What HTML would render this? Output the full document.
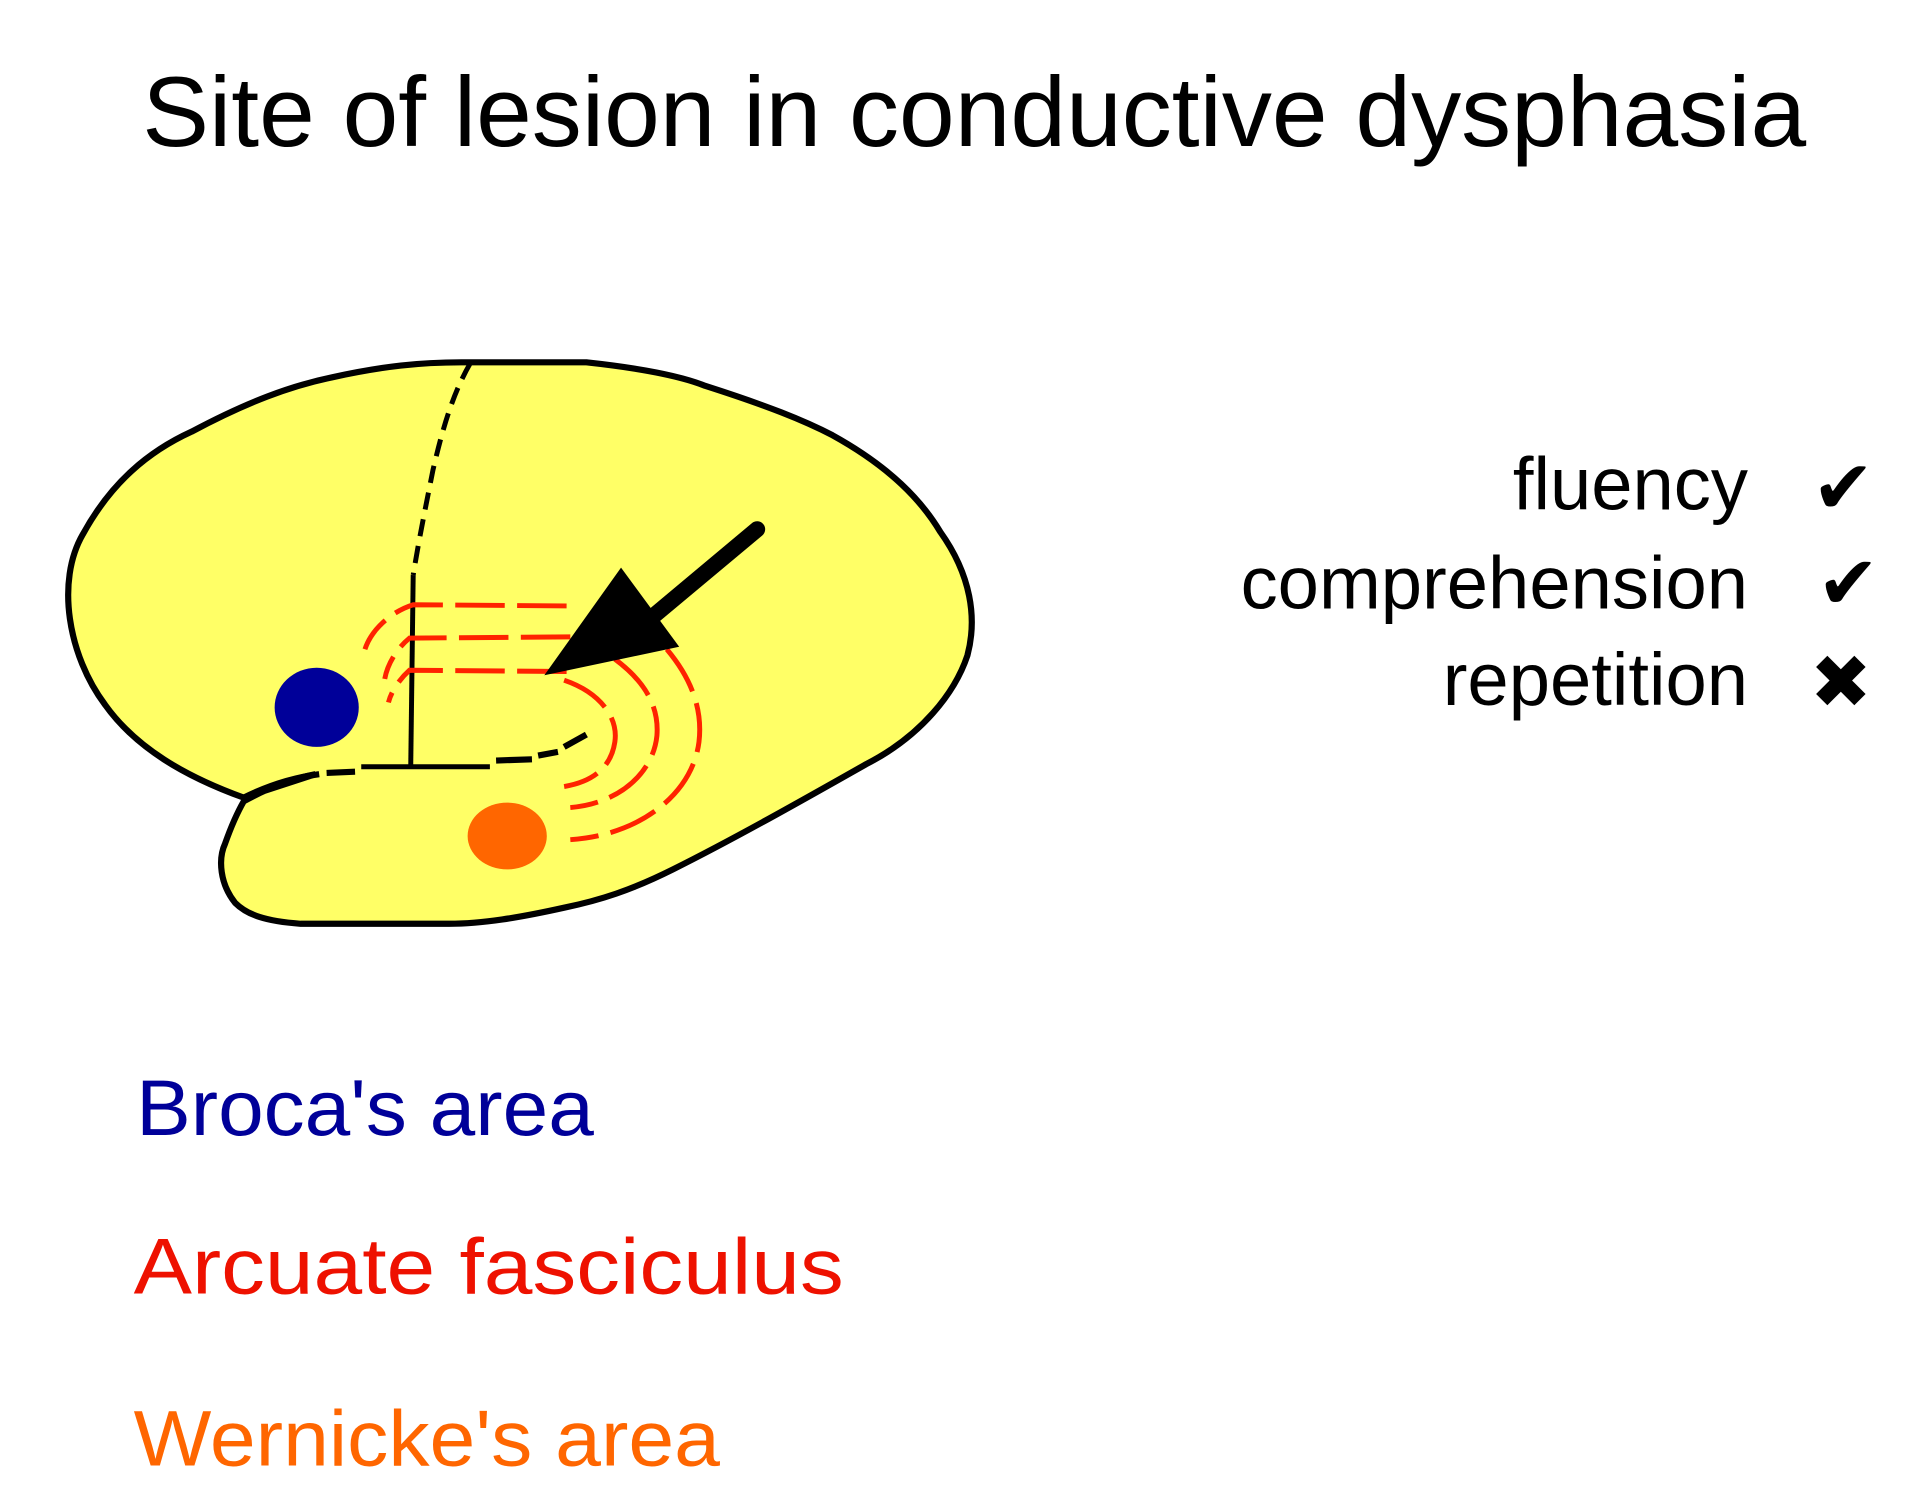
<!DOCTYPE html>
<html><head><meta charset="utf-8"><style>
html,body{margin:0;padding:0;background:#fff;}
svg{display:block;}
text{font-family:"Liberation Sans",sans-serif;}
</style></head><body>
<svg width="1920" height="1505" viewBox="0 0 1552 1217" preserveAspectRatio="none" xmlns="http://www.w3.org/2000/svg">
<rect width="1552" height="1217" fill="#fff"/>
<text x="115" y="118" font-size="80" fill="#000" textLength="1345" lengthAdjust="spacingAndGlyphs">Site of lesion in conductive dysphasia</text>

<!-- temporal lobe + main lobe -->
<path d="M197,645 C150,628 110,605 85,570 C55,530 45,470 67,432 C90,390 120,365 155,349 C200,325 235,312 269,305 C310,296 340,293 373,293 L474,293 C520,298 550,304 570,312 C620,328 650,340 673,352 C720,378 745,405 760,430 C785,465 790,500 782,530 C772,560 745,595 700,618 C640,652 590,680 544,703 C510,720 485,728 456,734 C420,742 390,747 363,747 L243,747 C215,745 200,740 190,730 C178,715 176,695 182,682 C188,665 193,655 197,648 C215,638 235,630 255,626 Z" fill="#ffff66" stroke="#000" stroke-width="5"/>
<!-- left lobe bottom boundary -->
<path d="M197,645 C215,636 235,629 258,626" fill="none" stroke="#000" stroke-width="5"/>
<!-- sylvian fissure -->
<line x1="264" y1="625" x2="287" y2="624" stroke="#000" stroke-width="5"/>
<line x1="292" y1="620" x2="396" y2="620" stroke="#000" stroke-width="4"/>
<line x1="401" y1="615" x2="430" y2="614" stroke="#000" stroke-width="5"/>
<line x1="435" y1="611" x2="451" y2="608" stroke="#000" stroke-width="5"/>
<line x1="456" y1="604" x2="474" y2="594" stroke="#000" stroke-width="5"/>
<!-- vertical line -->
<line x1="334" y1="465" x2="332" y2="620" stroke="#000" stroke-width="4"/>
<!-- central sulcus dashed -->
<path d="M380,294 C365,320 357,350 350,380 C343,415 338,440 334,465" fill="none" stroke="#000" stroke-width="4" stroke-dasharray="14,8"/>

<!-- arcuate fasciculus -->
<g fill="none" stroke="#ff2200" stroke-width="4" stroke-dasharray="40,10">
<path d="M458,490 L334,489 C315,495 300,510 295,525"/>
<path d="M461,515 L331,516 C320,525 313,538 311,549"/>
<path d="M458,543 L331,542 C322,550 316,560 314,568"/>
<path d="M456,550 C485,560 500,580 497,600 C494,620 480,632 456,636"/>
<path d="M497,533 C520,550 533,570 531,595 C528,625 500,650 461,653"/>
<path d="M539,525 C560,550 568,575 565,600 C560,640 520,675 461,679"/>
</g>

<!-- dots -->
<ellipse cx="256" cy="572" rx="34" ry="32" fill="#000099"/>
<ellipse cx="410" cy="676" rx="32" ry="27" fill="#ff6600"/>

<!-- arrow -->
<line x1="612" y1="428" x2="520" y2="505" stroke="#000" stroke-width="13" stroke-linecap="round"/>
<polygon points="440,546 502,459 549,523" fill="#000"/>

<!-- right side text -->
<g font-size="60" fill="#000" text-anchor="end">
<text x="1413" y="412">fluency</text>
<text x="1413" y="492">comprehension</text>
<text x="1413" y="570">repetition</text>
</g>
<g font-size="60" fill="#000" text-anchor="middle" font-family="DejaVu Sans, sans-serif">
<text x="1490" y="415" style="font-family:'DejaVu Sans',sans-serif">✔</text>
<text x="1494" y="492" style="font-family:'DejaVu Sans',sans-serif">✔</text>
<text x="1488" y="572" style="font-family:'DejaVu Sans',sans-serif">✖</text>
</g>

<!-- legend -->
<text x="110" y="918" font-size="64" fill="#000099" textLength="370" lengthAdjust="spacingAndGlyphs">Broca's area</text>
<text x="108" y="1046" font-size="64" fill="#ee1100" textLength="574" lengthAdjust="spacingAndGlyphs">Arcuate fasciculus</text>
<text x="108" y="1185" font-size="64" fill="#ff6600" textLength="474" lengthAdjust="spacingAndGlyphs">Wernicke's area</text>
</svg>
</body></html>
